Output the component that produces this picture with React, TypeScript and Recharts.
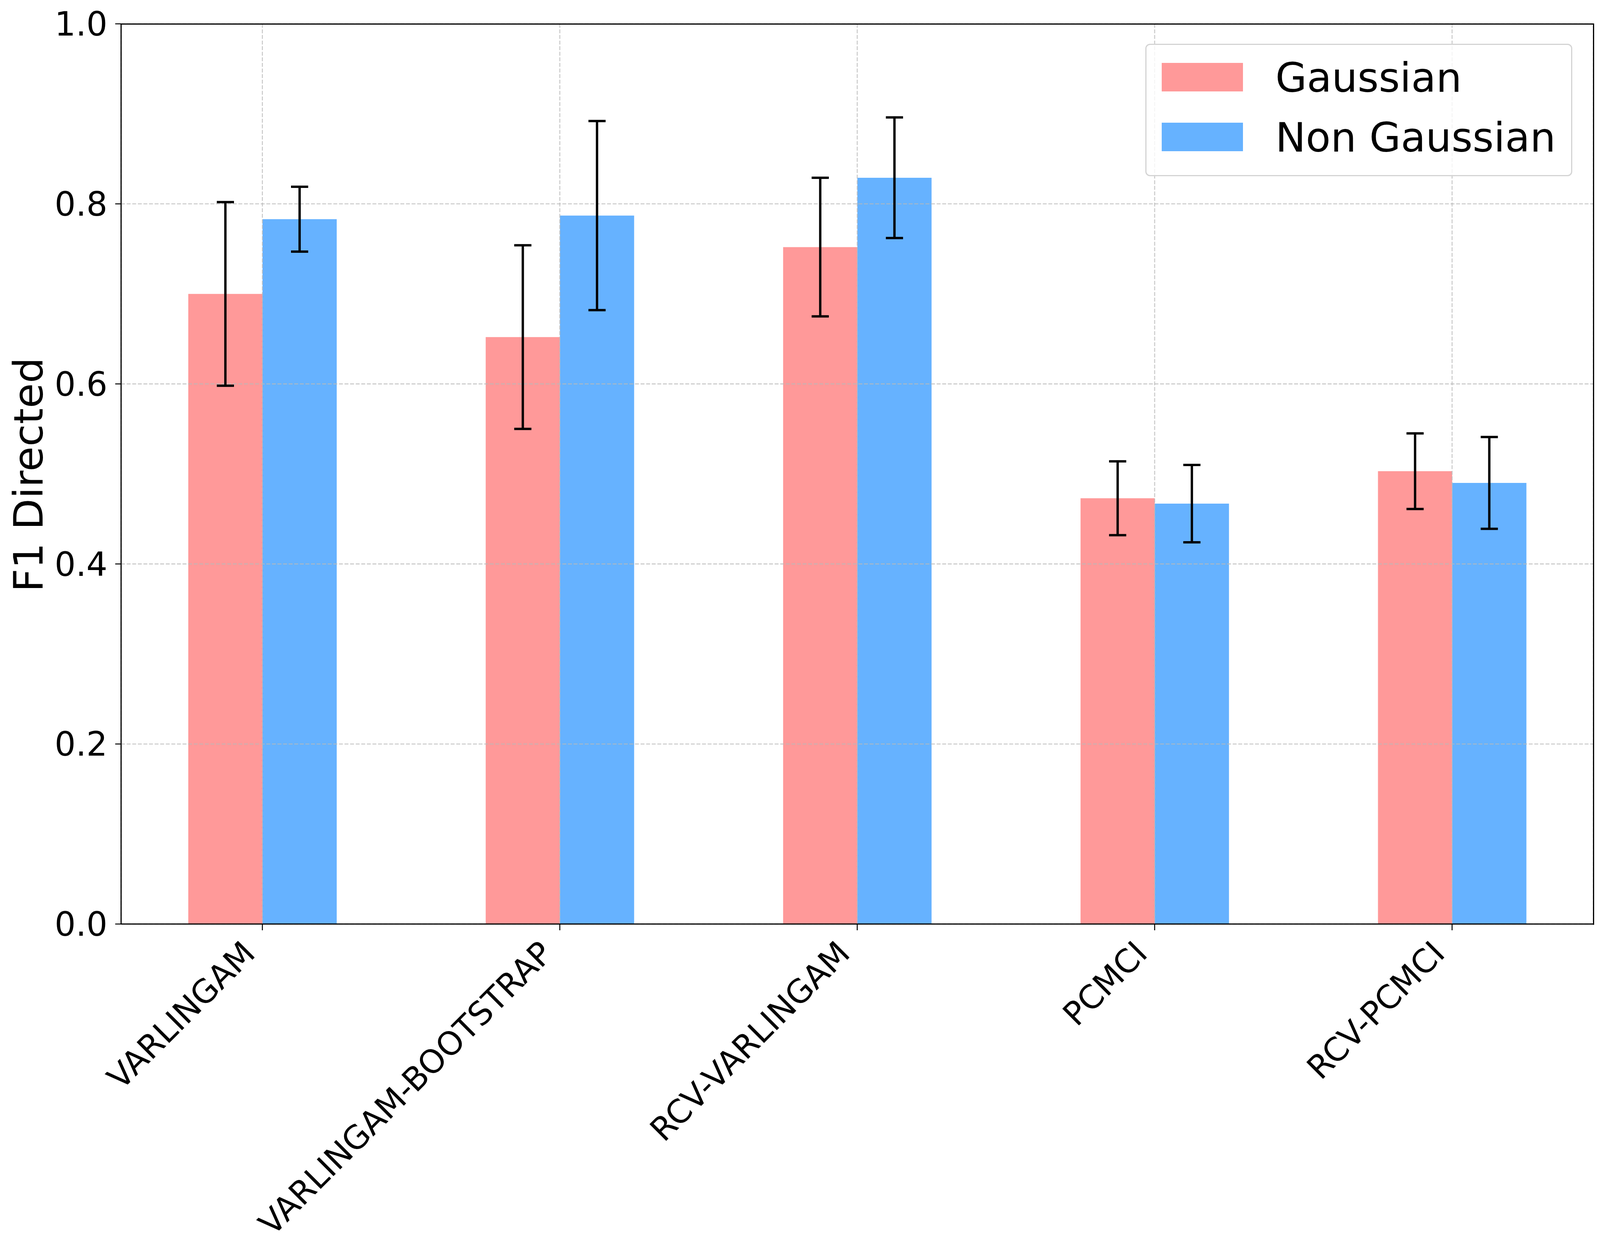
import React from "react";
import { BarChart, Bar, XAxis, YAxis, CartesianGrid, ErrorBar, Legend } from "recharts";

const categories = ["VARLINGAM", "VARLINGAM-BOOTSTRAP", "RCV-VARLINGAM", "PCMCI", "RCV-PCMCI"];
const gaussianMean = [0.700, 0.652, 0.752, 0.473, 0.503];
const gaussianErr = [0.102, 0.102, 0.077, 0.041, 0.042];
const nonGaussianMean = [0.783, 0.787, 0.829, 0.467, 0.490];
const nonGaussianErr = [0.036, 0.105, 0.067, 0.043, 0.051];
const yTicks = [0, 0.2, 0.4, 0.6, 0.8, 1.0];
const seriesNames = ["Gaussian", "Non Gaussian"];
const seriesColors = ["#FF9999", "#66B2FF"];

const data = categories.map((name, i) => ({
  name,
  g: gaussianMean[i],
  gErr: gaussianErr[i],
  ng: nonGaussianMean[i],
  ngErr: nonGaussianErr[i],
}));

const FONT = "'DejaVu Sans', sans-serif";
const W = 4108;
const H = 3207;
const TOP = 61;
const LEFT = 310;
const RIGHT_M = 29;
const BOTTOM_Y = 2365;

const XTick = (props: any) => {
  const { x, payload } = props;
  const ex = x - 14;
  const ey = BOTTOM_Y + 80;
  return (
    <text
      x={ex}
      y={ey}
      textAnchor="end"
      fontSize={83}
      fontFamily={FONT}
      fill="#000"
      transform={`rotate(-45, ${ex}, ${ey})`}
    >
      {payload.value}
    </text>
  );
};

const YLabel = () => (
  <text
    x={109}
    y={1215}
    textAnchor="middle"
    fontSize={104}
    fontFamily={FONT}
    fill="#000"
    transform={`rotate(-90, 109, 1215)`}
  >
    F1 Directed
  </text>
);

const LegendBox = () => (
  <div
    style={{
      position: "absolute",
      left: 2932,
      top: 112,
      width: 1093,
      height: 339,
      boxSizing: "border-box",
      border: "3px solid #d4d4d4",
      borderRadius: 12,
      background: "rgba(255,255,255,0.8)",
      fontFamily: FONT,
    }}
  >
    {seriesNames.map((n, i) => (
      <React.Fragment key={n}>
        <div
          style={{
            position: "absolute",
            left: 39,
            top: 46 + i * 153,
            width: 208,
            height: 73,
            background: seriesColors[i],
          }}
        />
        <div
          style={{
            position: "absolute",
            left: 330,
            top: 32 + i * 153,
            fontSize: 104,
            lineHeight: "104px",
            whiteSpace: "nowrap",
            color: "#000",
          }}
        >
          {n}
        </div>
      </React.Fragment>
    ))}
  </div>
);

export default function App() {
  return (
    <div style={{ position: "absolute", left: 0, top: 0, width: W, height: H, background: "#fff", overflow: "hidden" }}>
      <BarChart
        width={W}
        height={H}
        data={data}
        margin={{ top: TOP, right: RIGHT_M, bottom: 0, left: 0 }}
        barGap={0}
        barSize={190}
        style={{ fontFamily: FONT }}
      >
        <XAxis
          dataKey="name"
          height={H - BOTTOM_Y}
          padding={{ left: -19, right: -19 }}
          axisLine={{ stroke: "#000", strokeWidth: 3 }}
          tickLine={{ stroke: "#000", strokeWidth: 2.5 }}
          tickSize={16}
          tickMargin={0}
          tick={<XTick />}
          interval={0}
        />
        <YAxis
          type="number"
          domain={[0, 1]}
          ticks={yTicks}
          width={LEFT}
          tickFormatter={(v: number) => v.toFixed(1)}
          axisLine={{ stroke: "#000", strokeWidth: 3 }}
          tickLine={{ stroke: "#000", strokeWidth: 2.5 }}
          tickSize={15}
          tickMargin={20}
          tick={{ fontSize: 85, fill: "#000", fontFamily: FONT }}
          label={<YLabel />}
        />
        <Bar dataKey="g" name={seriesNames[0]} fill={seriesColors[0]} isAnimationActive={false}>
          <ErrorBar dataKey="gErr" width={22} stroke="#000" strokeWidth={6} direction="y" isAnimationActive={false} />
        </Bar>
        <Bar dataKey="ng" name={seriesNames[1]} fill={seriesColors[1]} isAnimationActive={false}>
          <ErrorBar dataKey="ngErr" width={22} stroke="#000" strokeWidth={6} direction="y" isAnimationActive={false} />
        </Bar>
        <CartesianGrid
          stroke="#b8b8b8"
          strokeOpacity={0.75}
          strokeWidth={2.6}
          strokeDasharray="10 4.3"
          zIndex={350}
        />
        <Legend
          content={<LegendBox />}
          wrapperStyle={{ position: "absolute", left: 0, top: 0, width: 0, height: 0 }}
        />
      </BarChart>
      <div
        style={{
          position: "absolute",
          left: LEFT - 1.5,
          top: TOP - 1.5,
          width: W - RIGHT_M - LEFT + 3,
          height: BOTTOM_Y - TOP + 3,
          boxSizing: "border-box",
          borderTop: "3px solid #000",
          borderRight: "3px solid #000",
          pointerEvents: "none",
        }}
      />
    </div>
  );
}
